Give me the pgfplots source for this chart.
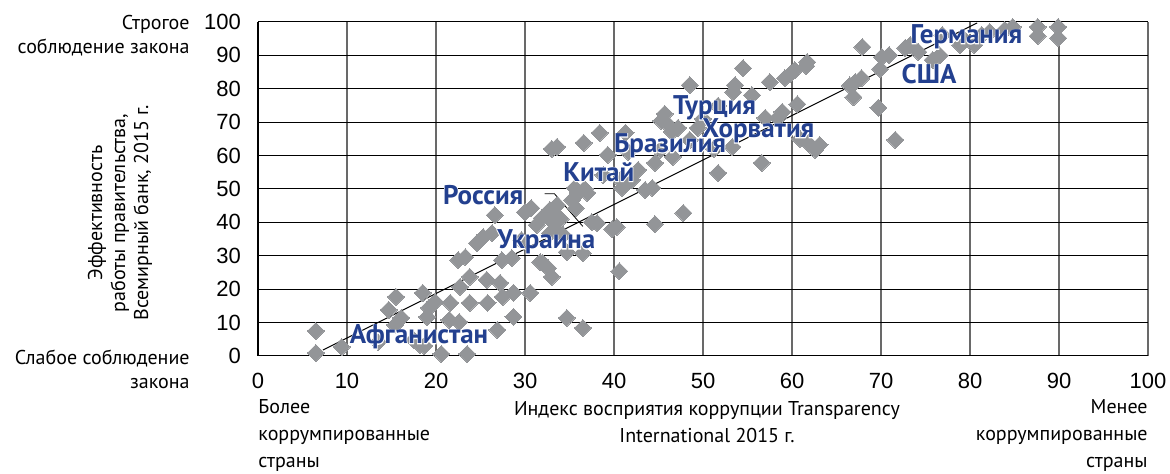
\documentclass[border=0pt]{standalone}
\usepackage{fontspec}
\setmainfont{PT Sans}
\newfontfamily\tickfont{Liberation Sans}
\newfontfamily\halofont[FakeBold=5]{PT Sans Bold}
\usepackage{pgfplots}
\pgfplotsset{compat=1.18}
\definecolor{dgrey}{RGB}{147,149,152}
\definecolor{lblue}{RGB}{35,64,143}
\definecolor{vgrid}{RGB}{105,105,105}
\newcommand{\lbl}{\bfseries\fontsize{13.5}{15}\selectfont}
\newcommand{\hlbl}{\halofont\fontsize{13.5}{15}\selectfont}
\newcommand{\halolabel}[2]{%
  \node[text=white, font=\hlbl, inner sep=0pt] at (#1) {#2};
  \node[text=lblue, font=\lbl, inner sep=0pt] at (#1) {#2};}
\begin{document}
\begin{tikzpicture}
\path[use as bounding box] (-129pt,-59pt) rectangle (456pt,178pt);
\begin{axis}[
  scale only axis, width=445pt, height=167pt,
  xmin=0, xmax=100, ymin=0, ymax=100,
  xtick={0,10,...,100}, ytick={0,10,...,100},
  major tick length=0pt,
  axis line style={draw=none},
  xmajorgrids, ymajorgrids,
  x grid style={vgrid, line width=0.9pt},
  y grid style={black, line width=0.5pt},
  tick label style={font=\tickfont\fontsize{11}{13}\selectfont},
  /pgf/number format/assume math mode=true,
  xticklabel style={yshift=-5pt},
  yticklabel style={xshift=-5pt},
  clip=false,
]
\addplot[only marks, color=dgrey, mark=square*, mark size=3pt, mark options={rotate=45, fill=dgrey, draw=dgrey, line width=0pt}] coordinates {
(6.5,7.5) (6.5,0.9) (9.4,2.7) (13.5,4.2) (14.7,13.8) (15.5,17.7) (15.4,9.3) (16.1,11.4)
(17.5,4.8) (18.2,3.3) (18.5,18.9) (19.2,14.4) (19.0,11.7) (19.9,16.2) (18.7,3.0) (20.6,0.6)
(21.6,15.9) (21.5,10.8) (22.6,10.2) (22.7,20.7) (23.8,23.7) (22.5,28.7) (23.3,29.6) (23.8,15.9)
(23.5,0.6) (25.8,15.9) (25.7,22.8) (27.2,21.9) (27.5,17.7) (26.9,7.8) (28.7,11.7) (28.7,18.9)
(30.6,18.9) (32.0,27.8) (33.0,23.7) (34.7,11.4) (36.5,8.4) (40.6,25.4) (34.7,31.1) (36.5,30.8)
(24.6,33.8) (25.3,35.6) (26.3,36.8) (26.6,42.2) (27.4,28.7) (28.5,29.3) (29.6,34.7) (30.0,43.1)
(30.7,44.3) (31.3,39.2) (31.9,41.3) (31.7,28.1) (32.6,26.3) (33.0,62.0) (33.6,62.6) (32.8,43.7)
(33.1,40.1) (33.6,41.9) (34.0,41.0) (33.4,38.0) (35.3,46.7) (35.7,44.3) (36.0,48.8) (36.7,50.0)
(36.6,63.8) (37.5,40.1) (38.1,39.8) (38.4,66.8) (38.8,54.2) (39.3,60.2) (39.8,38.0) (40.3,38.6)
(40.9,50.3) (41.3,51.5) (41.3,66.8) (41.6,61.1) (42.0,52.7) (42.7,55.7) (43.5,49.7) (44.3,50.3)
(44.6,57.8) (44.6,39.5) (45.2,61.7) (45.7,72.5) (46.1,69.2) (46.5,67.1) (46.6,59.6) (47.2,68.3)
(47.8,42.8) (48.5,81.1) (48.5,64.7) (49.4,68.3) (50.0,71.0) (51.2,62.0) (51.7,54.8) (51.7,74.9)
(53.4,79.0) (54.5,86.2) (55.5,78.1) (56.6,57.8) (57.0,71.3) (57.5,82.0) (58.4,71.3) (58.9,73.1)
(59.2,83.2) (59.8,84.4) (60.3,85.6) (60.6,75.4) (60.9,65.0) (61.6,86.8) (61.8,63.8) (62.6,61.7)
(63.1,63.2) (66.9,77.5) (67.1,82.0) (67.9,92.5) (67.8,83.2) (69.7,74.3) (69.9,85.9) (70.1,89.5)
(70.9,90.1) (71.6,64.7) (72.7,92.2) (73.3,93.1) (74.2,91.0) (75.8,88.6) (76.9,96.1) (78.9,93.1)
(79.4,94.6) (81.3,96.1) (82.2,97.0) (83.9,97.6) (84.8,98.5) (87.6,98.5) (87.6,95.8) (89.9,98.5)
(89.9,95.2) (53.6,81.1) (53.3,62.6) (61.7,88.0) (66.5,81.0) (76.6,90.0) (80.5,93.1) (45.3,70.4)
(33.6,45.2) (35.6,50.3) (37.0,48.8) (32.8,36.8) (34.3,36.2) (40.7,52.7)
};
\addplot[black, line width=0.5pt] coordinates {(7.3,1.8) (80.8,99.7)};
\draw[black, line width=0.4pt] (axis cs:32.2,48.6) -- (axis cs:33.3,48.6) -- (axis cs:36.5,38.8);
\draw[black, line width=0.6pt] (axis cs:0,0) -- (axis cs:0,100);
\coordinate (afg) at (axis cs:18.1,5.7);
\coordinate (ukr) at (axis cs:32.4,34.1);
\coordinate (rus) at (axis cs:25.3,48.2);
\coordinate (chn) at (axis cs:38.3,55.1);
\coordinate (bra) at (axis cs:46.3,62.9);
\coordinate (tur) at (axis cs:51.3,74.3);
\coordinate (hrv) at (axis cs:56.2,67.4);
\coordinate (deu) at (axis cs:79.6,95.5);
\coordinate (usa) at (axis cs:75.4,84.4);
\end{axis}
\halolabel{afg}{Афганистан}
\halolabel{ukr}{Украина}
\halolabel{rus}{Россия}
\halolabel{chn}{Китай}
\halolabel{bra}{Бразилия}
\halolabel{tur}{Турция}
\halolabel{hrv}{Хорватия}
\halolabel{deu}{Германия}
\halolabel{usa}{США}
\node[anchor=east, align=right, inner sep=0pt, font=\fontsize{10}{12}\selectfont] at (-34pt,160pt) {Строгое\\соблюдение закона};
\node[anchor=east, align=right, inner sep=0pt, font=\fontsize{10}{12}\selectfont] at (-34pt,-6.75pt) {Слабое соблюдение\\закона};
\node[rotate=90, align=center, inner sep=0pt, font=\fontsize{10}{11.5}\selectfont] at (-69pt,71.5pt) {Эффективность\\работы правительства,\\Всемирный банк, 2015 г.};
\node[anchor=west, align=left, inner sep=0pt, font=\fontsize{10}{13.5}\selectfont] at (0pt,-40pt) {Более\\коррумпированные\\страны};
\node[align=center, inner sep=0pt, font=\fontsize{10}{13.5}\selectfont] at (224.5pt,-33pt) {Индекс восприятия коррупции Transparency\\International 2015 г.};
\node[anchor=east, align=right, inner sep=0pt, font=\fontsize{10}{13.5}\selectfont] at (445pt,-40pt) {Менее\\коррумпированные\\страны};
\end{tikzpicture}
\end{document}
